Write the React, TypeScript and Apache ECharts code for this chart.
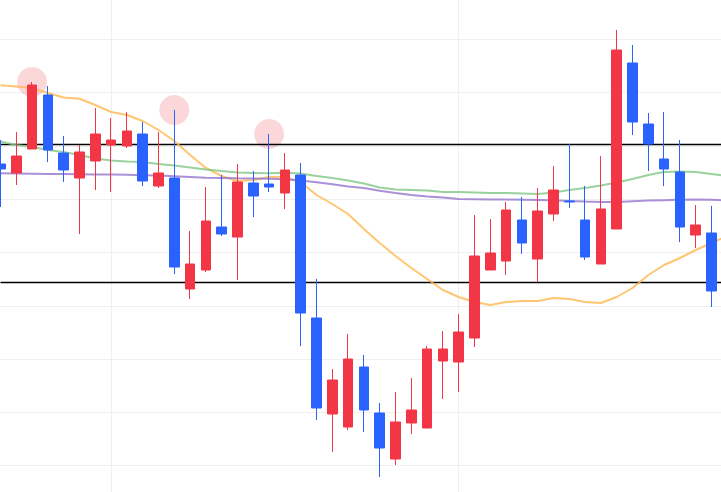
import React, { useEffect, useRef } from "react";
import * as echarts from "echarts";

const dates = [
  "2024-01-02", "2024-01-03", "2024-01-04", "2024-01-05", "2024-01-08", "2024-01-09", "2024-01-10",
  "2024-01-11", "2024-01-12", "2024-01-15", "2024-01-16", "2024-01-17", "2024-01-18", "2024-01-19",
  "2024-01-22", "2024-01-23", "2024-01-24", "2024-01-25", "2024-01-26", "2024-01-29", "2024-01-30",
  "2024-01-31", "2024-02-01", "2024-02-02", "2024-02-05", "2024-02-06", "2024-02-07", "2024-02-08",
  "2024-02-09", "2024-02-12", "2024-02-13", "2024-02-14", "2024-02-15", "2024-02-16", "2024-02-19",
  "2024-02-20", "2024-02-21", "2024-02-22", "2024-02-23", "2024-02-26", "2024-02-27", "2024-02-28",
  "2024-02-29", "2024-03-01", "2024-03-04", "2024-03-05", "2024-03-06",
];

// [open, close, lowest, highest]
const ohlc: number[][] = [
  [355, 350, 312, 379], [346, 363, 334, 387], [370, 434, 370, 437], [424, 369, 357, 433],
  [366, 349, 337, 383], [341, 367, 285, 374], [358, 385, 329, 411], [374, 379, 327, 401],
  [373, 388, 371, 407], [385, 338, 333, 397], [333, 346, 331, 387], [341, 252, 245, 409],
  [230, 255, 220, 288], [249, 298, 247, 332], [292, 285, 283, 344], [282, 337, 239, 355],
  [336, 323, 302, 348], [335, 332, 327, 385], [326, 349, 310, 366], [344, 206, 173, 356],
  [201, 111, 99, 240], [105, 139, 67, 150], [92, 160, 89, 185], [152, 109, 87, 164],
  [106, 71, 42, 116], [60, 97, 54, 127], [96, 109, 85, 141], [91, 170, 91, 173],
  [158, 170, 120, 188], [157, 187, 127, 205], [181, 263, 172, 304], [249, 266, 249, 300],
  [258, 309, 244, 317], [299, 276, 265, 322], [260, 308, 237, 331], [305, 329, 298, 353],
  [318, 317, 311, 375], [299, 262, 259, 333], [255, 310, 255, 363], [290, 469, 290, 489],
  [456, 397, 384, 474], [395, 375, 348, 406], [360, 350, 333, 407], [347, 292, 277, 379],
  [284, 294, 271, 314], [286, 228, 212, 313], [228, 240, 215, 250],
];

const maOrange = [
  433.7, 432.5, 431, 426, 421.5, 420.3, 414, 407, 404, 398, 389, 378, 364, 351, 343, 338,
  339, 342, 342, 337, 324, 315, 305, 290, 276, 263, 251, 240, 229, 222, 217, 214, 217, 218,
  218, 221, 220, 217, 216, 222, 231, 244, 254, 261, 269, 276, 283,
];

const maGreen = [
  377.5, 374, 372, 369, 367, 364, 360.5, 358.5, 357.5, 357, 355, 353.5, 351.5, 349.5, 348,
  346.5, 346, 345.7, 346.2, 345.5, 343, 341, 338.5, 335.5, 331.5, 329.5, 329, 328.5, 327,
  327, 326.5, 326, 326, 325.5, 325, 326.5, 329, 331, 333.5, 336.5, 340, 344, 347, 347.5,
  347, 345, 343,
];

const maPurple = [
  345.7, 345.5, 345.3, 345, 345, 344.8, 344.6, 344.4, 344.2, 343.8, 343.4, 342.7, 342,
  341.3, 341, 340.7, 340.5, 340.3, 339.8, 338.5, 336.7, 334.7, 332.5, 331, 328.2, 326, 324,
  322.5, 321.5, 320, 319.8, 319.6, 319.4, 319.2, 319, 318.7, 318, 317.4, 317, 317, 317.7,
  318.4, 318.8, 319.2, 319.6, 319.2, 318.5,
];

const levelLines = [374.7, 236.7];
const highlightIdx = [2, 11, 17];

const UP = "#f23645";
const DOWN = "#2962ff";
const GRID = "#efefef";

export default function App() {
  const ref = useRef<HTMLDivElement>(null);
  useEffect(() => {
    if (!ref.current) return;
    const chart = echarts.init(ref.current, undefined, { renderer: "svg" });
    const lineSeries = (name: string, data: number[], color: string) => ({
      name,
      type: "line",
      data,
      symbol: "none",
      smooth: false,
      lineStyle: { color, width: 2, opacity: 0.8 },
      silent: true,
      z: 3,
    });
    chart.setOption({
      animation: false,
      backgroundColor: "#ffffff",
      grid: { left: 0.5, right: 0.7, top: 0, bottom: 0, containLabel: false },
      xAxis: {
        type: "category",
        data: dates,
        boundaryGap: false,
        axisLine: { show: false },
        axisTick: { show: false },
        axisLabel: { show: false },
        splitLine: {
          show: true,
          interval: (i: number) => i % 22 === 7,
          lineStyle: { color: GRID, width: 1 },
        },
      },
      yAxis: {
        type: "value",
        min: 0,
        max: 533,
        interval: 53.3,
        axisLine: { show: false },
        axisTick: { show: false },
        axisLabel: { show: false },
        splitLine: { show: true, lineStyle: { color: GRID, width: 1 } },
      },
      series: [
        {
          name: "K",
          type: "candlestick",
          data: ohlc,
          barWidth: 10,
          z: 4,
          itemStyle: {
            color: UP,
            color0: DOWN,
            borderColor: UP,
            borderColor0: DOWN,
            borderWidth: 1,
          },
          markPoint: {
            symbol: "circle",
            symbolSize: 30,
            silent: true,
            z: 1,
            label: { show: false },
            itemStyle: { color: "rgba(242,54,69,0.2)" },
            data: highlightIdx.map((i) => ({ coord: [dates[i], ohlc[i][3]] })),
          },
          markLine: {
            symbol: "none",
            silent: true,
            z: 2,
            label: { show: false },
            lineStyle: { color: "#000000", width: 1.4, type: "solid" },
            data: levelLines.map((v) => ({ yAxis: v })),
          },
        },
        lineSeries("MA-A", maOrange, "#ffb74d"),
        lineSeries("MA-B", maGreen, "#81c784"),
        lineSeries("MA-C", maPurple, "#9575cd"),
      ],
    });
    return () => chart.dispose();
  }, []);
  return (
    <div
      ref={ref}
      style={{ position: "fixed", left: 0, top: -14, width: 728, height: 533, background: "#fff" }}
    />
  );
}
